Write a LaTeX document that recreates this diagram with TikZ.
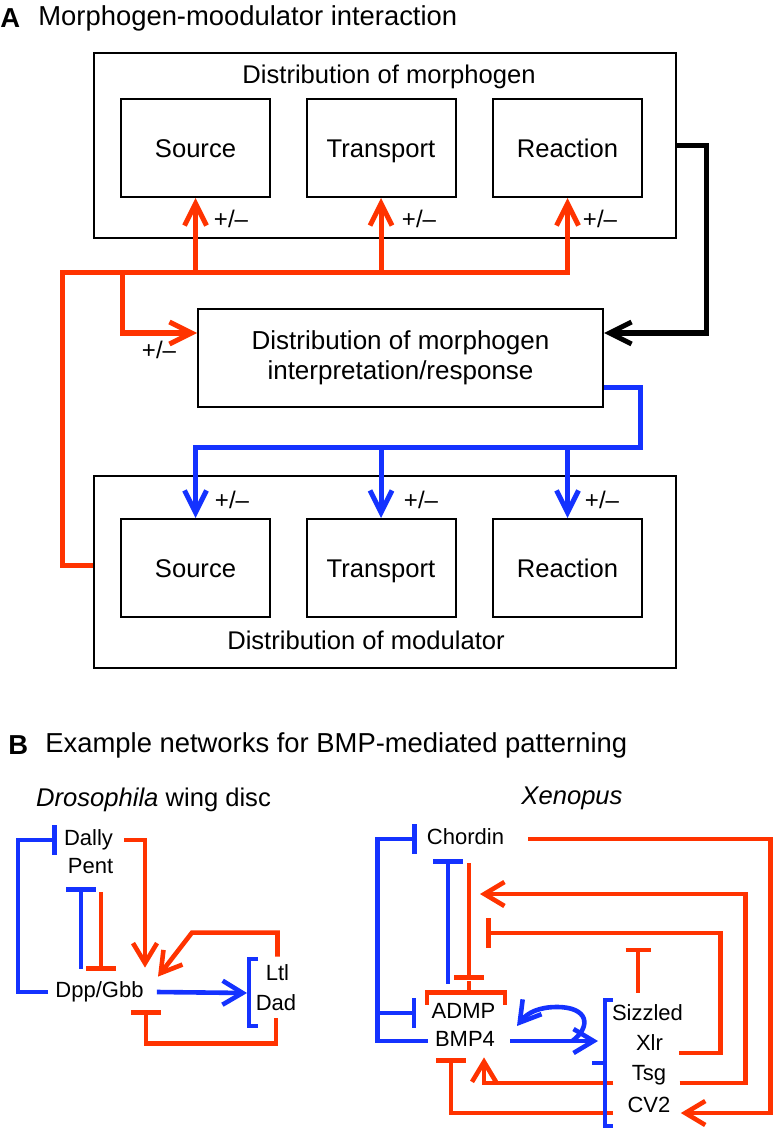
\documentclass[tikz,border=0pt]{standalone}
\usepackage{fontspec}
\setmainfont{Liberation Sans}
\usetikzlibrary{arrows.meta,calc}
\definecolor{actred}{RGB}{255,51,0}
\definecolor{inhblue}{RGB}{20,50,255}

\begin{document}
\begin{tikzpicture}[x=0.5pt,y=-0.5pt,
  frame/.style={draw=black,line width=1pt,inner sep=0pt},
  box/.style={frame,minimum width=74.5pt,minimum height=49pt,text height=9.2pt,text depth=0pt,font=\fontsize{12.8}{15}\selectfont},
  pm/.style={inner sep=0pt,font=\fontsize{12}{14}\selectfont},
  head/.style={inner sep=0pt,anchor=west,font=\fontsize{13.7}{16}\selectfont},
  sub/.style={inner sep=0pt,font=\fontsize{12.8}{15}\selectfont},
  gene/.style={inner xsep=3.5pt,inner ysep=0pt,text height=8pt,text depth=2.5pt,font=\fontsize{11}{13}\selectfont},
  wireA/.style={line width=2.5pt,-{Straight Barb[length=11pt,width=11pt]}},
  wireB/.style={line width=2.3pt},
  act/.style={wireB,-{Straight Barb[length=10pt,width=12pt]}},
  inh/.style={wireB,-{Bar[width=15pt]}}]
\useasboundingbox (0,0) rectangle (776,1128);
% Panel A: boxes
\node[head,font=\fontsize{13.7}{16}\selectfont\bfseries] (labA) at (0,18) {A};
\node[head] (titA) at (38,18) {Morphogen-moodulator interaction};
\node[frame,minimum width=291pt,minimum height=92.5pt] (morph) at (385,145.5) {};
\node[sub] (morphlab) at (389,77) {Distribution of morphogen};
\node[box] (src1) at (195.5,148) {Source};
\node[box] (trn1) at (381,148) {Transport};
\node[box] (rxn1) at (567.5,148) {Reaction};
\node[frame,minimum width=202.5pt,minimum height=49pt,align=center,font=\fontsize{13}{15}\selectfont] (resp) at (400.5,358) {Distribution of morphogen\\interpretation/response};
\node[frame,minimum width=291pt,minimum height=96pt] (mod) at (385,572) {};
\node[box] (src2) at (195.5,568) {Source};
\node[box] (trn2) at (381,568) {Transport};
\node[box] (rxn2) at (567.5,568) {Reaction};
\node[sub] (modlab) at (366,640) {Distribution of modulator};
\foreach \px/\py [count=\k] in {231/219,419/219,600/219,159/350,232/500,421/500,602/500}
  \node[pm] (pm\k) at (\px,\py) {+/–};
% Panel A: wires
\coordinate (redbus) at (62,273);
\coordinate (redtap) at (122,273);
\coordinate (blkturn) at (706,333);
\coordinate (bluebus) at (640,447);
\draw[wireA,actred] ([yshift=3.5pt]mod.west) -| (redbus) -| (rxn1.south);
\draw[wireA,actred] (src1.south |- redbus) -- (src1.south);
\draw[wireA,actred] (trn1.south |- redbus) -- (trn1.south);
\draw[wireA,actred] (redtap) |- ([yshift=12.5pt]resp.west);
\draw[wireA,black] (morph.east) -| (blkturn) -- ([yshift=12.5pt]resp.east);
\draw[wireA,inhblue] ([yshift=-14.5pt]resp.east) -| (bluebus) -| (src2.north);
\draw[wireA,inhblue] (trn2.north |- bluebus) -- (trn2.north);
\draw[wireA,inhblue] (rxn2.north |- bluebus) -- (rxn2.north);
% Panel B: titles
\node[head,font=\fontsize{13.7}{16}\selectfont\bfseries] (labB) at (8,745) {B};
\node[head] (titB) at (45,745) {Example networks for BMP-mediated patterning};
\node[sub] (dros) at (153.5,800) {\textit{Drosophila} wing disc};
\node[sub] (xeno) at (572,798) {\textit{Xenopus}};
% Drosophila wing disc
\node[gene] (dally) at (88.5,840) {Dally};
\node[gene] (pent) at (90.5,868) {Pent};
\node[gene] (dpp) at (99.5,992) {Dpp/Gbb};
\node[gene] (ltl) at (277.5,975) {Ltl};
\node[gene] (dad) at (276,1005) {Dad};
\coordinate (dbrk) at (249,993);
\draw[inh,inhblue] (dpp.west) -- ++(-30,0) |- (dally.west);
\draw[inh,inhblue] ($(dpp.north)+(-18.5,-12.5)$) -- ($(pent.south)+(-9.5,8.5)$);
\draw[inh,actred] ($(pent.south)+(10.5,13.5)$) -- ($(dpp.north)+(1.5,-10.5)$);
\draw[act,actred] ([xshift=2pt]dally.east) -| ($(dpp.north)+(45.5,-13.5)$);
\draw[act,actred] ($(ltl.north)+(0,-7.5)$) -- ++(0,-24) -- ++(-85.5,0) -- ($(dpp.north)+(58.5,-4.5)$);
\draw[inh,actred] ($(dad.south)+(0,2.5)$) -- ++(0,25) -| ($(dpp.south)+(46.5,7.5)$);
\draw[act,inhblue] ([xshift=3pt]dpp.east) -- ($(dbrk)+(-2,0)$);
\draw[wireB,inhblue] ($(dbrk)+(9,-34)$) -- ($(dbrk)+(0,-34)$) -- ($(dbrk)+(0,33)$) -- ($(dbrk)+(9,33)$);
% Xenopus
\node[gene] (chordin) at (465.5,839) {Chordin};
\node[gene] (admp) at (463.5,1013) {ADMP};
\node[gene] (bmp) at (465,1041) {BMP4};
\node[gene] (sizzled) at (647.5,1015) {Sizzled};
\node[gene] (xlr) at (649.5,1045) {Xlr};
\node[gene] (tsg) at (649,1075) {Tsg};
\node[gene] (cv) at (649,1107) {CV2};
\coordinate (xleft) at ($(bmp.west)+(-50,0)$);
\coordinate (tsghit) at (480,894);
\coordinate (xlrhit) at (486,933);
\coordinate (xbrk) at (605,1063);
\draw[inh,inhblue] (bmp.west) -- (xleft) |- ([xshift=-1.5pt]chordin.west);
\draw[inh,inhblue] (xleft |- admp.west) -- ([xshift=-4pt]admp.west);
\draw[inh,inhblue] ($(admp.north)+(-15.5,-18.5)$) -- ($(chordin.south)+(-17.5,9.5)$);
\draw[inh,actred] ($(chordin.south)+(3.5,13.5)$) -- ($(admp.north)+(5.5,-22.5)$);
\draw[wireB,actred] ($(admp.north)+(-36.5,2.5)$) -- ($(admp.north)+(-36.5,-9.5)$) -- ($(admp.north)+(41.5,-9.5)$) -- ($(admp.north)+(41.5,2.5)$);
\draw[wireB,actred] ($(admp.north)+(5.5,-9.5)$) -- ($(admp.north)+(5.5,-21.5)$);
\draw[act,actred] ([xshift=8.5pt]chordin.east) -- ++(242,0) |- ($(cv.east)+(3,6)$);
\draw[act,actred] ($(tsg.east)+(6,8)$) -- ++(66,0) |- (tsghit);
\draw[inh,actred] ($(xlr.east)+(9,8)$) -- ++(41,0) |- (xlrhit);
\draw[inh,actred,-{Bar[width=12.5pt]}] ($(sizzled.north)+(-9.5,-11.5)$) -- ++(0,-45);
\draw[act,actred] ($(tsg.west)+(-11,8)$) -| ($(bmp.south)+(19,5.5)$);
\draw[inh,actred] ($(cv.west)+(-7,6)$) -| ($(bmp.south)+(-14,6.5)$);
\draw[act,inhblue] ([xshift=4pt]bmp.east) -- ($(bmp.east -| xbrk)+(-7,0)$);
\draw[act,inhblue] ($(bmp.east)+(70,0)$) .. controls (592,1026) and (588,1007) .. (557,1007) .. controls (540,1007) and (528,1012) .. (517,1026);
\draw[wireB,inhblue] ($(xbrk)+(8,-63)$) -- ($(xbrk)+(0,-63)$) -- ($(xbrk)+(0,63)$) -- ($(xbrk)+(8,63)$);
\draw[wireB,inhblue] (xbrk) -- ++(-13,0);
% Done with panel B
\end{tikzpicture}
\end{document}
